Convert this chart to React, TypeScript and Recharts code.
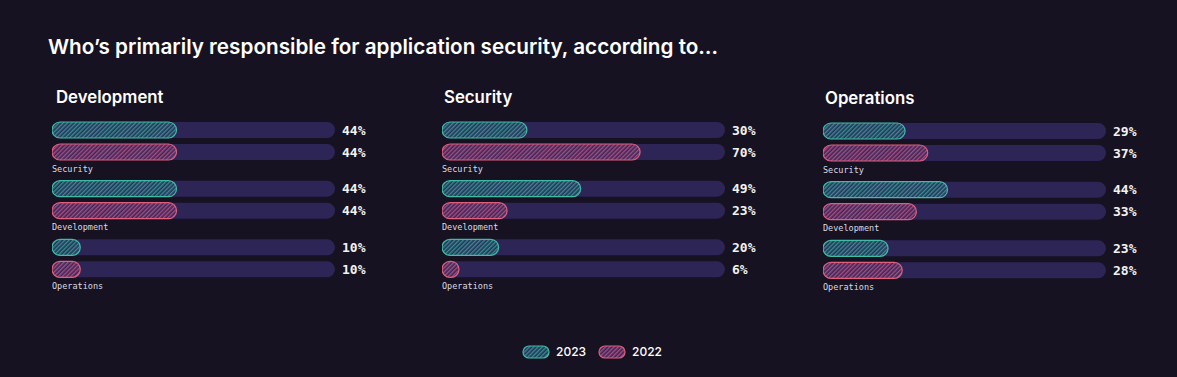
import React from 'react';
import { BarChart, Bar, XAxis, YAxis, LabelList } from 'recharts';

const groups = ['Security', 'Development', 'Operations'];
const devValues2023 = [44, 44, 10];
const devValues2022 = [44, 44, 10];
const secValues2023 = [30, 49, 20];
const secValues2022 = [70, 23, 6];
const opsValues2023 = [29, 44, 23];
const opsValues2022 = [37, 33, 28];

const BG = '#161221';
const TRACK = '#2e2557';
const TEAL = '#3fbca3';
const PINK = '#df5f7c';
const PLOT_W = 283;
const MONO = '"DejaVu Sans Mono", "Liberation Mono", monospace';
const SANS = 'Inter, "Noto Sans", sans-serif';

const buildRows = (a: number[], b: number[]) =>
  groups.map((name, i) => ({ name, y2023: a[i], y2022: b[i] }));

function Patterns({ prefix }: { prefix: string }) {
  return (
    <defs>
      <pattern id={`${prefix}23`} patternUnits="userSpaceOnUse" width="3" height="3" patternTransform="rotate(45)">
        <rect width="3" height="3" fill="#27325e" />
        <line x1="0.75" y1="0" x2="0.75" y2="3" stroke="#3fa597" strokeWidth="1.1" />
      </pattern>
      <pattern id={`${prefix}22`} patternUnits="userSpaceOnUse" width="3" height="3" patternTransform="rotate(45)">
        <rect width="3" height="3" fill="#3a2859" />
        <line x1="0.75" y1="0" x2="0.75" y2="3" stroke="#c2578a" strokeWidth="1.1" />
      </pattern>
    </defs>
  );
}

const ValueLabel = (props: any) => {
  const { y, height, value } = props;
  return (
    <text x={PLOT_W + 7} y={y + height / 2} dominantBaseline="central" fill="#f2f2f2"
      fontFamily={MONO} fontSize={13} fontWeight={700}>
      {value}%
    </text>
  );
};

const NameLabel = (props: any) => {
  const { y, height, value } = props;
  return (
    <text x={0} y={y + height + 8.5} dominantBaseline="central" fill="#dcdce6"
      fontFamily={MONO} fontSize={8.5}>
      {value}
    </text>
  );
};

function Panel({ title, titleLeft, left, top, a, b, id }: any) {
  const rows = buildRows(a, b);
  return (
    <>
      <div style={{ position: 'absolute', left: titleLeft, top: top - 25, color: '#fff', fontFamily: SANS, fontSize: 16.8, fontWeight: 600 }}>
        {title}
      </div>
      <div style={{ position: 'absolute', left, top }}>
        <BarChart width={PLOT_W + 77} height={188} data={rows} layout="vertical"
          margin={{ top: 0, right: 77, bottom: 12, left: 0 }} barSize={16} barGap={6}>
          <Patterns prefix={id} />
          <XAxis type="number" domain={[0, 100]} hide />
          <YAxis type="category" dataKey="name" hide />
          <Bar dataKey="y2023" fill={`url(#${id}23)`} stroke={TEAL} strokeWidth={1.2} radius={8}
            background={{ fill: TRACK, radius: 8 } as any} isAnimationActive={false}>
            <LabelList dataKey="y2023" content={ValueLabel} />
          </Bar>
          <Bar dataKey="y2022" fill={`url(#${id}22)`} stroke={PINK} strokeWidth={1.2} radius={8}
            background={{ fill: TRACK, radius: 8 } as any} isAnimationActive={false}>
            <LabelList dataKey="y2022" content={ValueLabel} />
            <LabelList dataKey="name" content={NameLabel} />
          </Bar>
        </BarChart>
      </div>
    </>
  );
}

function Swatch({ id }: { id: string }) {
  return (
    <svg width={28} height={14} style={{ display: 'block' }}>
      <Patterns prefix="lg" />
      <rect x={1} y={1} width={26} height={12} rx={6} fill={`url(#lg${id})`} stroke={id === '23' ? TEAL : PINK} strokeWidth={1.2} />
    </svg>
  );
}

export default function App() {
  return (
    <div style={{ position: 'fixed', left: 0, top: 0, width: 1177, height: 377, background: BG, overflow: 'hidden' }}>
      <div style={{ position: 'absolute', left: 48, top: 34, color: '#fff', fontFamily: SANS, fontSize: 20.7, fontWeight: 600 }}>
        Who’s primarily responsible for application security, according to…
      </div>
      <Panel title="Development" titleLeft={56} left={52} top={112} a={devValues2023} b={devValues2022} id="d" />
      <Panel title="Security" titleLeft={444} left={442} top={112} a={secValues2023} b={secValues2022} id="s" />
      <Panel title="Operations" titleLeft={825} left={823} top={113} a={opsValues2023} b={opsValues2022} id="o" />
      <div style={{ position: 'absolute', left: 522, top: 344, display: 'flex', alignItems: 'center', color: '#fff', fontFamily: SANS, fontSize: 12, fontWeight: 500 }}>
        <Swatch id="23" />
        <span style={{ marginLeft: 6, marginRight: 12 }}>2023</span>
        <Swatch id="22" />
        <span style={{ marginLeft: 6 }}>2022</span>
      </div>
    </div>
  );
}
